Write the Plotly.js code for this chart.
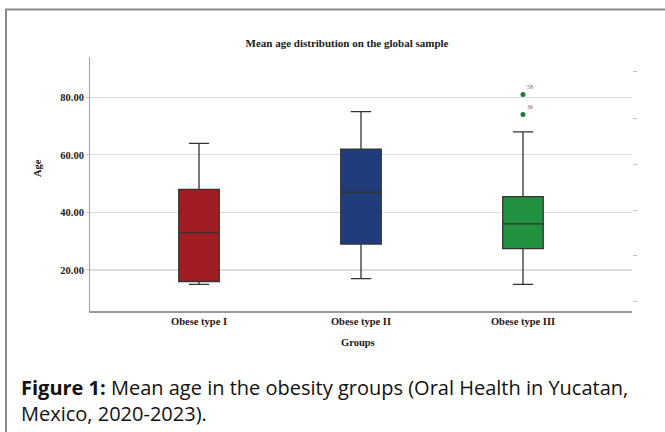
<!DOCTYPE html>
<html>
<head>
<meta charset="utf-8">
<script src="https://cdn.plot.ly/plotly-3.0.1.min.js"></script>
<style>
html,body{margin:0;padding:0;background:#fff;}
#chart{width:665px;height:432px;}
</style>
</head>
<body>
<div id="chart"></div>
<script>
// ---- data ----
const groups = ['Obese type I', 'Obese type II', 'Obese type III'];
const lowerFence = [15, 17, 15];
const q1 = [16, 29, 27.4];
const median = [33, 47, 36];
const q3 = [48, 62, 45.5];
const upperFence = [64, 75, 68];
const outlierGroup = ['Obese type III', 'Obese type III'];
const outlierAge = [81, 74];
const outlierLabels = ['58', '36'];
const yTickVals = [20, 40, 60, 80];
const rightTickVals = [88.8, 72.8, 56.8, 40.5, 24.9, 8.9];

const fills = ['#a01d22', '#203c7b', '#21903f'];
const serif = '"Liberation Serif", "Times New Roman", serif';

const traces = groups.map((g, i) => ({
  type: 'box',
  name: g,
  x: [g],
  q1: [q1[i]],
  median: [median[i]],
  q3: [q3[i]],
  lowerfence: [lowerFence[i]],
  upperfence: [upperFence[i]],
  width: 0.25,
  whiskerwidth: 0.5,
  fillcolor: fills[i],
  line: {color: '#333333', width: 1.3},
  boxpoints: false,
  hoverinfo: 'skip',
  showlegend: false
}));

traces.push({
  type: 'scatter',
  mode: 'markers+text',
  x: outlierGroup,
  y: outlierAge,
  text: outlierLabels,
  textposition: 'top right',
  textfont: {family: serif, size: 6, color: '#666'},
  marker: {color: '#1f7a35', size: 5},
  showlegend: false,
  hoverinfo: 'skip'
});

// invisible trace to activate right axis
traces.push({
  type: 'scatter', x: [groups[0]], y: [50], yaxis: 'y2',
  mode: 'markers', marker: {opacity: 0}, showlegend: false, hoverinfo: 'skip'
});

const layout = {
  width: 665, height: 432,
  margin: {l: 90, r: 33, t: 57, b: 121},
  paper_bgcolor: '#fff', plot_bgcolor: '#fff',
  boxmode: 'overlay',
  showlegend: false,
  title: {
    text: 'Mean age distribution on the global sample',
    font: {family: serif, size: 11, color: '#1a1a1a', weight: 'bold'},
    xref: 'container', x: 347/665, xanchor: 'center',
    yref: 'container', y: 1 - 43/432, yanchor: 'middle'
  },
  xaxis: {
    type: 'category',
    categoryarray: groups,
    range: [-0.673, 2.673],
    showgrid: false, zeroline: false,
    showline: true, linecolor: '#9a9a9a', linewidth: 1.5,
    ticks: '',
    tickfont: {family: serif, size: 10.5, color: '#1a1a1a', weight: 'bold'},
    fixedrange: true
  },
  yaxis: {
    range: [5.75, 94.0],
    tickvals: yTickVals,
    tickformat: '.2f',
    showgrid: true, gridcolor: '#dcdcdc', gridwidth: 1.2,
    zeroline: false,
    showline: true, linecolor: '#a0a0a0', linewidth: 1,
    ticks: 'outside', ticklen: 3, tickcolor: '#c8c8c8',
    tickfont: {family: serif, size: 10.5, color: '#222', weight: 'bold'},
    fixedrange: true
  },
  yaxis2: {
    overlaying: 'y', side: 'right',
    range: [5.75, 94.0],
    tickvals: rightTickVals,
    showticklabels: false,
    showgrid: false, zeroline: false, showline: false,
    ticks: 'outside', ticklen: 4, tickcolor: '#c4c4c4',
    fixedrange: true
  },
  annotations: [
    {text: 'Age', xref: 'paper', yref: 'paper', x: (37-90)/542, y: (311-168)/254,
     textangle: -90, showarrow: false, xanchor: 'center', yanchor: 'middle',
     font: {family: serif, size: 10.5, color: '#1a1a1a', weight: 'bold'}},
    {text: 'Groups', xref: 'paper', yref: 'paper', x: (358-90)/542, y: (311-342)/254,
     showarrow: false, xanchor: 'center', yanchor: 'middle',
     font: {family: serif, size: 10.5, color: '#1a1a1a', weight: 'bold'}},
    {text: '<b>Figure 1:</b> Mean age in the obesity groups (Oral Health in Yucatan,',
     xref: 'paper', yref: 'paper', x: (19-90)/542, y: (311-387)/254,
     showarrow: false, xanchor: 'left', yanchor: 'middle', align: 'left',
     font: {family: '"Open Sans", sans-serif', size: 20, color: '#111'}},
    {text: 'Mexico, 2020-2023).',
     xref: 'paper', yref: 'paper', x: (19-90)/542, y: (311-413)/254,
     showarrow: false, xanchor: 'left', yanchor: 'middle', align: 'left',
     font: {family: '"Open Sans", sans-serif', size: 20, color: '#111'}}
  ],
  shapes: [
    {type: 'rect', xref: 'paper', yref: 'paper',
     x0: (6-90)/542, x1: (700-90)/542, y0: (311-470)/254, y1: (311-9.5)/254,
     line: {color: '#8a8a8a', width: 2}, fillcolor: 'rgba(0,0,0,0)', layer: 'below'}
  ]
};

Plotly.newPlot('chart', traces, layout, {displayModeBar: false, staticPlot: true});
</script>
</body>
</html>
